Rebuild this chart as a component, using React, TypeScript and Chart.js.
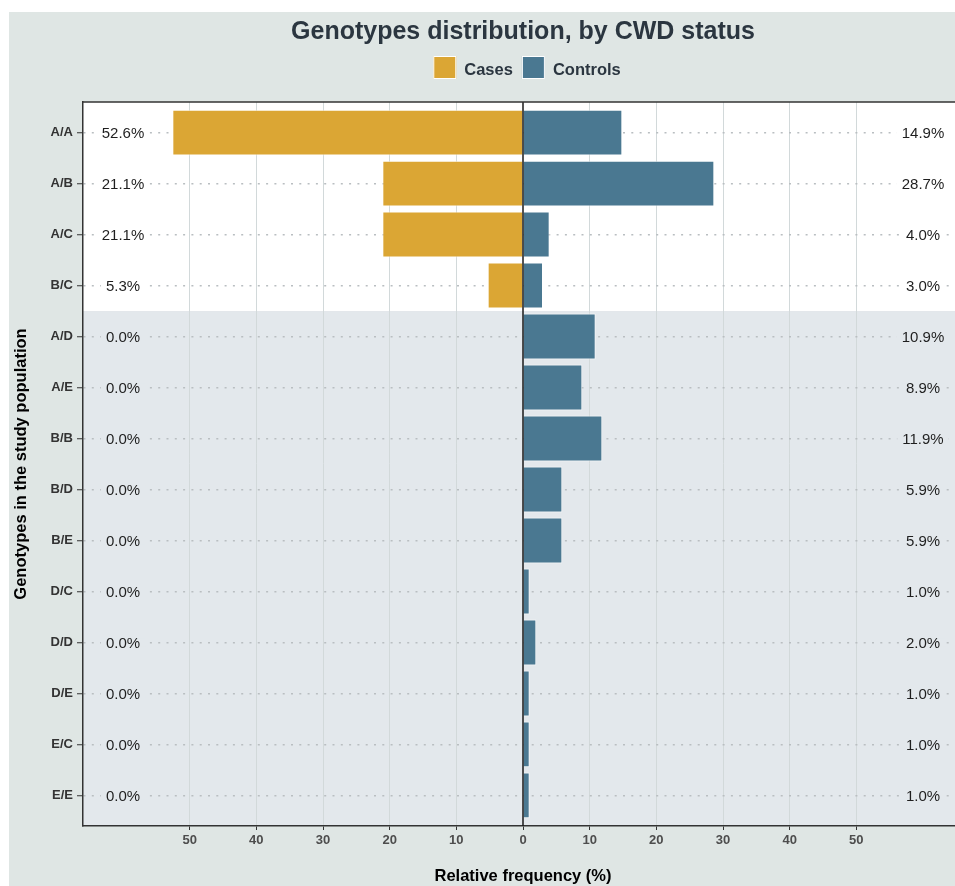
import React, { useEffect, useRef } from "react";
import { Chart, registerables } from "chart.js";

Chart.register(...registerables);

const genotypes = ["A/A", "A/B", "A/C", "B/C", "A/D", "A/E", "B/B", "B/D", "B/E", "D/C", "D/D", "D/E", "E/C", "E/E"];
const casesPct = [52.6, 21.1, 21.1, 5.3, 0, 0, 0, 0, 0, 0, 0, 0, 0, 0];
const controlsPct = [14.9, 28.7, 4.0, 3.0, 10.9, 8.9, 11.9, 5.9, 5.9, 1.0, 2.0, 1.0, 1.0, 1.0];
const xTicks = [-50, -40, -30, -20, -10, 0, 10, 20, 30, 40, 50];
const seriesNames = ["Cases", "Controls"];
const seriesColors = ["#dba634", "#4a7891"];
const titleText = "Genotypes distribution, by CWD status";
const xTitle = "Relative frequency (%)";
const yTitle = "Genotypes in the study population";
const whiteRows = 4;

const FONT = "'Liberation Sans', Arial, Helvetica, sans-serif";
const FIG_BG = "#dfe6e4";
const PANEL_GRAY = "#e3e8ec";

const decor = {
  id: "decor",
  beforeDraw(chart: any) {
    const { ctx, chartArea: a, scales } = chart;
    const y = scales.y;
    ctx.save();
    ctx.fillStyle = FIG_BG;
    ctx.fillRect(0, 0, chart.width, chart.height);
    const split = y.getPixelForValue(whiteRows - 0.5);
    ctx.fillStyle = "#ffffff";
    ctx.fillRect(a.left, a.top, a.right - a.left, split - a.top);
    ctx.fillStyle = PANEL_GRAY;
    ctx.fillRect(a.left, split, a.right - a.left, a.bottom - split);
    ctx.restore();
  },
  afterDatasetsDraw(chart: any) {
    const { ctx, chartArea: a, scales } = chart;
    const x = scales.x;
    const y = scales.y;
    ctx.save();
    const x0 = x.getPixelForValue(0);
    ctx.strokeStyle = "#1a1a1a";
    ctx.lineWidth = 1.5;
    ctx.beginPath();
    ctx.moveTo(x0, a.top);
    ctx.lineTo(x0, a.bottom);
    ctx.stroke();
    ctx.strokeStyle = "#333333";
    ctx.beginPath();
    ctx.moveTo(a.left, a.top);
    ctx.lineTo(a.right, a.top);
    ctx.stroke();

    ctx.font = `15px ${FONT}`;
    ctx.textAlign = "center";
    ctx.textBaseline = "middle";
    genotypes.forEach((_g, i) => {
      const py = y.getPixelForValue(i);
      const bg = i < whiteRows ? "#ffffff" : PANEL_GRAY;
      const pairs: [number, number][] = [
        [-60, casesPct[i]],
        [60, controlsPct[i]],
      ];
      pairs.forEach(([xv, v]) => {
        const t = v.toFixed(1) + "%";
        const px = x.getPixelForValue(xv);
        const w = ctx.measureText(t).width;
        ctx.fillStyle = bg;
        ctx.fillRect(px - w / 2 - 5, py - 4, w + 10, 8);
        ctx.fillStyle = "#1f1f1f";
        ctx.fillText(t, px, py + 1);
      });
    });
    ctx.restore();
  },
  afterDraw(chart: any) {
    const { ctx, chartArea: a } = chart;
    const cx = (a.left + a.right) / 2;
    ctx.save();
    ctx.fillStyle = "#2b3640";
    ctx.font = `bold 25px ${FONT}`;
    ctx.textAlign = "center";
    ctx.textBaseline = "alphabetic";
    ctx.fillText(titleText, cx, 27);

    ctx.font = `bold 16.5px ${FONT}`;
    const sw = 23;
    const gapS = 8;
    const gapI = 9;
    const widths = seriesNames.map((n) => ctx.measureText(n).width);
    let total = 0;
    widths.forEach((w, i) => {
      total += sw + gapS + w + (i < widths.length - 1 ? gapI : 0);
    });
    let lx = cx + 4 - total / 2;
    ctx.textAlign = "left";
    seriesNames.forEach((n, i) => {
      ctx.fillStyle = seriesColors[i];
      ctx.fillRect(lx, 44, sw, sw);
      ctx.strokeStyle = "#ffffff";
      ctx.lineWidth = 1;
      ctx.strokeRect(lx + 0.5, 44.5, sw - 1, sw - 1);
      ctx.fillStyle = "#2b3640";
      ctx.fillText(n, lx + sw + gapS, 63);
      lx += sw + gapS + widths[i] + gapI;
    });
    ctx.restore();
  },
};

export default function App() {
  const ref = useRef<HTMLCanvasElement | null>(null);

  useEffect(() => {
    if (!ref.current) return;
    Chart.defaults.font.family = FONT;
    const chart = new Chart(ref.current, {
      type: "bar",
      data: {
        datasets: [
          {
            label: seriesNames[0],
            data: casesPct.map((v, i) => ({ x: -v, y: i })),
            backgroundColor: seriesColors[0],
            borderColor: "rgba(255,255,255,0.7)",
            borderWidth: (c: any) => (c.raw && c.raw.x === 0 ? 0 : 1),
          },
          {
            label: seriesNames[1],
            data: controlsPct.map((v, i) => ({ x: v, y: i })),
            backgroundColor: seriesColors[1],
            borderColor: "rgba(255,255,255,0.7)",
            borderWidth: (c: any) => (c.raw && c.raw.x === 0 ? 0 : 1),
          },
        ] as any,
      },
      options: {
        indexAxis: "y",
        responsive: false,
        animation: false,
        grouped: false,
        barPercentage: 0.9,
        categoryPercentage: 1,
        layout: { padding: { top: 90, left: 0, right: 0, bottom: 0 } },
        plugins: {
          legend: { display: false },
          title: { display: false },
          tooltip: { enabled: false },
        },
        scales: {
          x: {
            type: "linear",
            min: -66,
            max: 66,
            offset: false,
            afterBuildTicks: (s: any) => {
              s.ticks = xTicks.map((v) => ({ value: v }));
            },
            afterFit: (s: any) => {
              s.height = 60;
            },
            ticks: {
              autoSkip: false,
              maxRotation: 0,
              padding: 3,
              color: "#4d4d4d",
              font: { size: 13, weight: "bold" },
              callback: (v: any) => String(Math.abs(Number(v))),
            },
            grid: {
              offset: false,
              color: (c: any) => (c.tick && c.tick.value === 0 ? "rgba(0,0,0,0)" : "#d2d9da"),
              lineWidth: 1,
              tickLength: 4,
              tickColor: "#333333",
            },
            border: { display: true, color: "#333333", width: 1.5 },
            title: {
              display: true,
              text: xTitle,
              color: "#000000",
              font: { size: 16.5, weight: "bold" },
              padding: { top: 0, bottom: 0 },
            },
          },
          y: {
            type: "linear",
            reverse: true,
            min: -0.6,
            max: 13.6,
            offset: false,
            afterBuildTicks: (s: any) => {
              s.ticks = genotypes.map((_g, i) => ({ value: i }));
            },
            afterFit: (s: any) => {
              s.width = 74;
            },
            ticks: {
              autoSkip: false,
              padding: 4,
              color: "#333333",
              font: { size: 13, weight: "bold" },
              callback: (v: any) => genotypes[Number(v)] ?? "",
            },
            grid: {
              offset: false,
              color: "#b9bec1",
              lineWidth: 1.5,
              tickLength: 6,
              tickColor: "#333333",
              tickWidth: 1,
            },
            border: { display: true, color: "#333333", width: 1.5, dash: [2, 6.3] },
            title: {
              display: true,
              text: yTitle,
              color: "#000000",
              font: { size: 16.5, weight: "bold" },
              padding: { top: 3, bottom: 0 },
            },
          },
        },
      } as any,
      plugins: [decor],
    });
    return () => chart.destroy();
  }, []);

  return (
    <div style={{ position: "absolute", left: 9, top: 12, width: 946, height: 874, overflow: "hidden" }}>
      <canvas ref={ref} width={954} height={874} style={{ display: "block" }} />
    </div>
  );
}
